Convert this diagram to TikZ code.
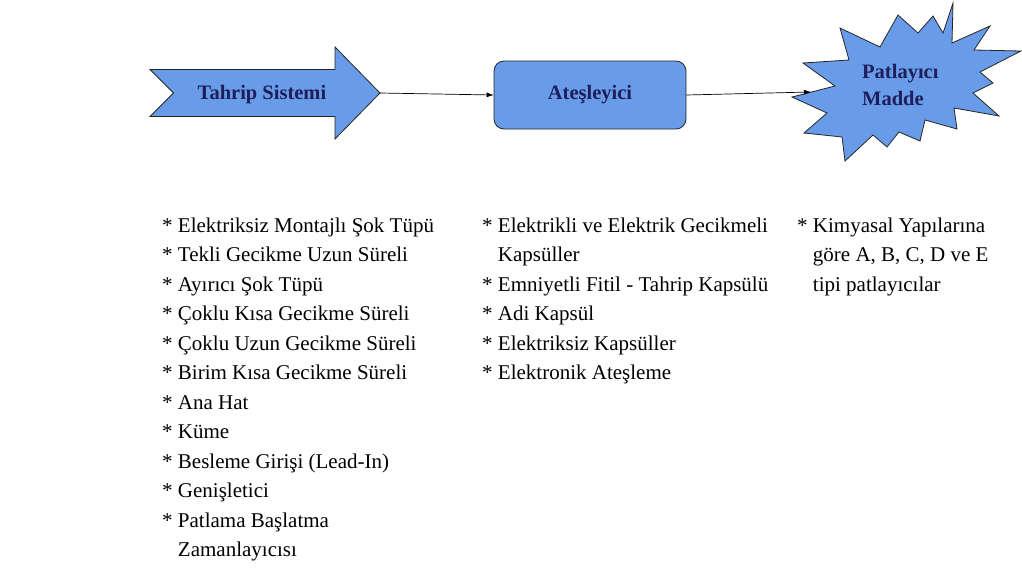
\documentclass[tikz,border=0pt]{standalone}
\usepackage{fontspec}
\setmainfont{Liberation Serif}
\usetikzlibrary{arrows.meta}
\definecolor{shapeblue}{RGB}{104,155,232}
\definecolor{labelnavy}{RGB}{30,30,90}
\begin{document}
\begin{tikzpicture}[x=1pt,y=-1pt,
  shapestyle/.style={fill=shapeblue,draw=black!85,line width=0.8pt,line join=miter},
  lbl/.style={text=labelnavy,font=\fontsize{20.5}{24}\selectfont\bfseries,inner sep=0pt},
  item/.style={anchor=base west,inner sep=0pt,font=\fontsize{21}{29}\selectfont},
  conn/.style={draw=black,line width=0.7pt,-{Latex[length=7pt,width=5pt]}}]
\useasboundingbox (0,0) rectangle (1022,581);
\fill[white] (0,0) rectangle (1022,581);

% Tahrip Sistemi arrow
\draw[shapestyle] (150,69.5) -- (335,69.5) -- (335,47) -- (380,93) -- (335,139)
  -- (335,116.5) -- (150,116.5) -- (173.5,93) -- cycle;
\coordinate (ts-tip) at (380,93);
\node[lbl,anchor=base] (ts) at (262,99.5) {Tahrip Sistemi};

% Ateşleyici box
\node[shapestyle,rounded corners=10pt,minimum width=192pt,minimum height=68pt,
  inner sep=0pt,text=labelnavy,font=\fontsize{20.5}{24}\selectfont\bfseries] (ates) at (590,95) {Ateşleyici};

% Patlayıcı Madde burst
\draw[shapestyle] (792,97) -- (835,86) -- (803,63) -- (849,60) -- (840,28) -- (880,47)
  -- (898,15) -- (918,33) -- (933,16) -- (943,33) -- (953,3) -- (952,43) -- (990,26)
  -- (974,50) -- (1021,51) -- (980,72) -- (993,83) -- (973,93) -- (999,116) -- (954,108)
  -- (957,129) -- (925,120) -- (920,141) -- (899,132) -- (887,147) -- (873,135)
  -- (845,161) -- (842,137) -- (804,133) -- (827,113) -- cycle;
\coordinate (pm-in) at (811,92);
\node[lbl,anchor=base west] (pm1) at (862,78) {Patlayıcı};
\node[lbl,anchor=base west] (pm2) at (862,105) {Madde};

% connectors
\draw[conn] (ts-tip) -- (ates.west);
\draw[conn] (ates.east) -- (pm-in);

% lists
\foreach \t [count=\i from 0] in {{* Elektriksiz Montajlı Şok Tüpü},{* Tekli Gecikme Uzun Süreli},
  {* Ayırıcı Şok Tüpü},{* Çoklu Kısa Gecikme Süreli},{* Çoklu Uzun Gecikme Süreli},
  {* Birim Kısa Gecikme Süreli},{* Ana Hat},{* Küme},{* Besleme Girişi (Lead-In)},
  {* Genişletici},{* Patlama Başlatma},{\hphantom{*\ }Zamanlayıcısı}}
  \node[item] (c1-\i) at (162,232.5+29.45*\i) {\t};

\foreach \t [count=\i from 0] in {{* Elektrikli ve Elektrik Gecikmeli},{\hphantom{*\ }Kapsüller},
  {* Emniyetli Fitil - Tahrip Kapsülü},{* Adi Kapsül},{* Elektriksiz Kapsüller},
  {* Elektronik Ateşleme}}
  \node[item] (c2-\i) at (482,232.5+29.45*\i) {\t};

\foreach \t [count=\i from 0] in {{* Kimyasal Yapılarına},{\hphantom{*\ }göre A, B, C, D ve E},
  {\hphantom{*\ }tipi patlayıcılar}}
  \node[item] (c3-\i) at (797,232.5+29.45*\i) {\t};
\end{tikzpicture}
\end{document}
